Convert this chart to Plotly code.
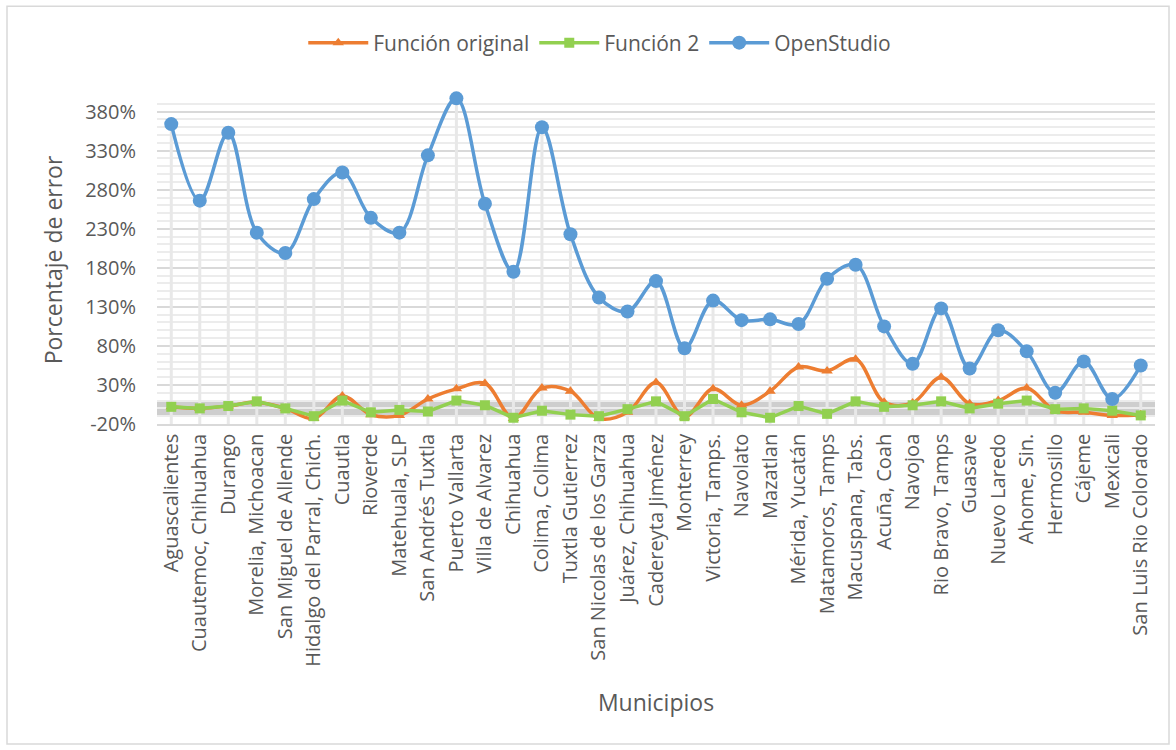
import plotly.graph_objects as go

# Municipios evaluados
municipios = [
    "Aguascalientes", "Cuautemoc, Chihuahua", "Durango", "Morelia, Michoacan",
    "San Miguel de Allende", "Hidalgo del Parral, Chich.", "Cuautla", "Rioverde",
    "Matehuala, SLP", "San Andrés Tuxtla", "Puerto Vallarta", "Villa de Alvarez",
    "Chihuahua", "Colima, Colima", "Tuxtla Gutierrez", "San Nicolas de los Garza",
    "Juárez, Chihuahua", "Cadereyta Jiménez", "Monterrey", "Victoria, Tamps.",
    "Navolato", "Mazatlan", "Mérida, Yucatán", "Matamoros, Tamps",
    "Macuspana, Tabs.", "Acuña, Coah", "Navojoa", "Rio Bravo, Tamps",
    "Guasave", "Nuevo Laredo", "Ahome, Sin.", "Hermosillo", "Cájeme",
    "Mexicali", "San Luis Rio Colorado",
]

# Porcentaje de error por método
funcion_original = [
    2, 0, 3, 8, 0, -13, 16, -8, -9, 12, 25, 32, -13, 26, 22, -13, -5, 33,
    -11, 25, 4, 22, 53, 48, 63, 8, 7, 40, 6, 10, 26, -3, -5, -9, -8,
]
funcion_2 = [
    2, 0, 3, 9, 0, -10, 10, -5, -2, -4, 10, 4, -12, -3, -8, -10, -1, 9,
    -10, 12, -5, -12, 3, -7, 9, 2, 4, 9, 0, 6, 10, -1, 0, -3, -9,
]
openstudio = [
    364, 266, 353, 225, 199, 268, 302, 244, 225, 324, 397, 262, 175, 360,
    223, 142, 124, 163, 77, 138, 113, 114, 108, 166, 184, 105, 57, 128, 51,
    100, 73, 20, 60, 12, 55,
]

# Banda de tolerancia y escala vertical
banda = (-10, 10)
y_min, y_max = -20, 400
y_ticks = list(range(-20, 381, 50))
y_labels = [f"{v}%" for v in y_ticks]

TEXT = "#595959"
FONT = "Open Sans"

fig = go.Figure()

# Líneas de caída desde cada punto de OpenStudio hasta el eje
drop_x, drop_y = [], []
for m, v in zip(municipios, openstudio):
    drop_x += [m, m, None]
    drop_y += [v, y_min, None]
fig.add_trace(go.Scatter(
    x=drop_x, y=drop_y, mode="lines",
    line=dict(color="#e8e8e8", width=3),
    hoverinfo="skip", showlegend=False,
))

fig.add_trace(go.Scatter(
    x=municipios, y=funcion_original, name="Función original",
    mode="lines+markers", line=dict(color="#ED7D31", width=3.5, shape="spline", smoothing=1),
    marker=dict(symbol="triangle-up", size=10, color="#ED7D31"),
))
fig.add_trace(go.Scatter(
    x=municipios, y=funcion_2, name="Función 2",
    mode="lines+markers", line=dict(color="#92D050", width=3.5),
    marker=dict(symbol="square", size=10, color="#92D050"),
))
fig.add_trace(go.Scatter(
    x=municipios, y=openstudio, name="OpenStudio",
    mode="lines+markers", line=dict(color="#5B9BD5", width=3.5, shape="spline", smoothing=1),
    marker=dict(symbol="circle", size=14, color="#5B9BD5"),
    cliponaxis=False,
))

# Banda sombreada
fig.add_shape(
    type="rect", xref="paper", yref="y", x0=0, x1=1, y0=banda[0], y1=banda[1],
    fillcolor="rgba(165,165,165,0.55)", line=dict(width=0), layer="between",
)

# Marco exterior del gráfico
fig.add_shape(
    type="rect", xref="paper", yref="paper",
    x0=(7 - 157) / 998, x1=(1169 - 157) / 998,
    y0=-(745 - 424.5) / 328.5, y1=1 + (96 - 6) / 328.5,
    line=dict(color="#d9d9d9", width=1.5), fillcolor="rgba(0,0,0,0)",
)

fig.update_layout(
    width=1176, height=750,
    margin=dict(l=157, r=21, t=96, b=325.5),
    paper_bgcolor="white", plot_bgcolor="white",
    font=dict(family=FONT, color=TEXT),
    legend=dict(
        orientation="h", xref="container", yref="container",
        x=0.51, y=1 - 43 / 750, xanchor="center", yanchor="middle",
        font=dict(size=21, color=TEXT), itemwidth=60,
    ),
)

fig.update_xaxes(
    type="category", categoryorder="array", categoryarray=municipios,
    range=[-0.5, len(municipios) - 0.5],
    tickangle=-90, tickfont=dict(size=20, color=TEXT),
    showgrid=False, showline=True, linecolor="#d9d9d9", linewidth=1.5,
    ticks="", zeroline=False,
    title=dict(text="Municipios", font=dict(size=23, color=TEXT), standoff=29),
)

fig.update_yaxes(
    range=[y_min, y_max],
    tickmode="array", tickvals=y_ticks, ticktext=y_labels,
    tickfont=dict(size=20, color=TEXT), ticklabelstandoff=20,
    showgrid=True, gridcolor="#d9d9d9", gridwidth=1.5,
    minor=dict(dtick=10, tick0=-20, showgrid=True, gridcolor="#ececec", gridwidth=1.5),
    zeroline=False, showline=False, ticks="",
    title=dict(text="Porcentaje de error", font=dict(size=23, color=TEXT), standoff=16),
)

fig.write_html("out.html")
